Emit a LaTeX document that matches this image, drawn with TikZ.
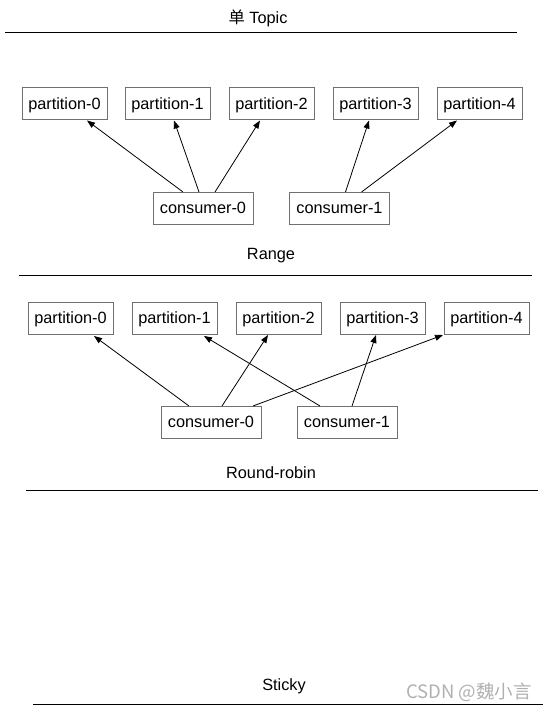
\documentclass[tikz,border=0pt]{standalone}
\usepackage{fontspec}
\setmainfont{Liberation Sans}
\newfontfamily\cjk{Noto Sans CJK SC}
\usetikzlibrary{arrows.meta,calc}
\definecolor{boxgray}{HTML}{707070}
\definecolor{wmgray}{HTML}{B0B0B0}
\begin{document}
\begin{tikzpicture}[x=1pt,y=-1pt,
  part/.style={draw=boxgray,line width=0.9pt,inner sep=0pt,outer sep=0pt,minimum width=85pt,minimum height=32pt,text depth=0pt,font=\fontsize{16.3}{19}\selectfont},
  cons/.style={part,minimum width=100pt},
  lbl/.style={inner sep=0pt,font=\fontsize{16.3}{19}\selectfont},
  rule/.style={line width=1pt,black},
  arr/.style={line width=0.8pt,-{Triangle[length=8pt,width=6pt]}}]
\useasboundingbox (0,0) rectangle (550,713);
% titles and rules
\node[lbl] (t1) at (258,18.5) {{\cjk 单} Topic};
\coordinate (r1a) at (5,32); \coordinate (r1b) at (517,32);
\draw[rule] (r1a) -- (r1b);
\node[lbl] (t2) at (271,255.5) {Range};
\coordinate (r2a) at (19,275); \coordinate (r2b) at (532,275);
\draw[rule] (r2a) -- (r2b);
\node[lbl] (t3) at (271,472.5) {Round-robin};
\coordinate (r3a) at (26,490); \coordinate (r3b) at (538,490);
\draw[rule] (r3a) -- (r3b);
\node[lbl] (t4) at (284,686) {Sticky};
\coordinate (r4a) at (33,704); \coordinate (r4b) at (543,704);
\draw[rule] (r4a) -- (r4b);
% Range
\node[part] (ap0) at (64.5,103.5) {partition-0};
\node[part] (ap1) at (167.5,103.5) {partition-1};
\node[part] (ap2) at (271.5,103.5) {partition-2};
\node[part] (ap3) at (375.5,103.5) {partition-3};
\node[part] (ap4) at (479.5,103.5) {partition-4};
\node[cons] (ac0) at (203,208) {consumer-0};
\node[cons] (ac1) at (339.5,208) {consumer-1};
\draw[arr] ($(ac0.north west)+(30,0)$) -- ($(ap0.south west)+(65,1)$);
\draw[arr] ($(ac0.north west)+(46,0)$) -- ($(ap1.south west)+(49,1)$);
\draw[arr] ($(ac0.north west)+(62,0)$) -- ($(ap2.south west)+(31,1)$);
\draw[arr] ($(ac1.north west)+(56,0)$) -- ($(ap3.south west)+(36,1)$);
\draw[arr] ($(ac1.north west)+(72,0)$) -- ($(ap4.south west)+(20,1)$);
% Round-robin
\node[part] (bp0) at (70.5,318) {partition-0};
\node[part] (bp1) at (174.5,318) {partition-1};
\node[part] (bp2) at (278.5,318) {partition-2};
\node[part] (bp3) at (382.5,318) {partition-3};
\node[part] (bp4) at (486.5,318) {partition-4};
\node[cons] (bc0) at (211,422) {consumer-0};
\node[cons] (bc1) at (347,422) {consumer-1};
\draw[arr] ($(bc0.north west)+(28,0)$) -- ($(bp0.south west)+(66,2)$);
\draw[arr] ($(bc0.north west)+(61,0)$) -- ($(bp2.south west)+(32,1)$);
\draw[arr] ($(bc0.north west)+(92,0)$) -- ($(bp4.south west)+(-1,1)$);
\draw[arr] ($(bc1.north west)+(23,0)$) -- ($(bp1.south west)+(72,2)$);
\draw[arr] ($(bc1.north west)+(55,0)$) -- ($(bp3.south west)+(36,1)$);
% watermark
\node[inner sep=0pt,text=wmgray,font=\cjk\fontsize{18.5}{22}\selectfont] (wm) at (469,692) {CSDN @魏小言};
\end{tikzpicture}
\end{document}
